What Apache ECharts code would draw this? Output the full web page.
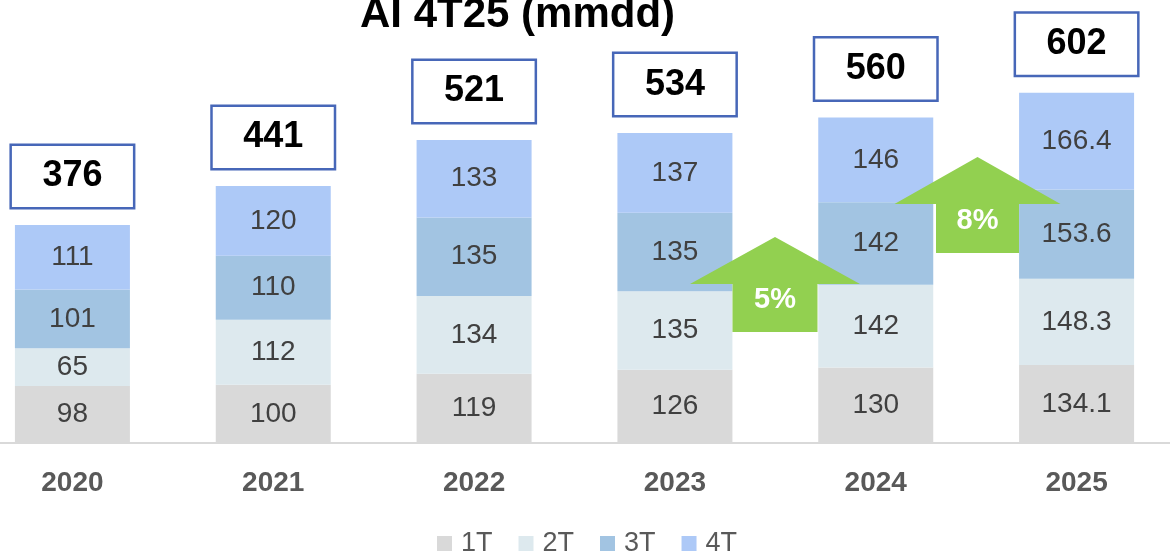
<!DOCTYPE html>
<html>
<head>
<meta charset="utf-8">
<script src="https://cdn.jsdelivr.net/npm/echarts@6/dist/echarts.min.js"></script>
<style>
html,body{margin:0;padding:0;background:#fff;overflow:hidden;width:1170px;height:552px;position:relative;}
#c{position:absolute;left:-28px;top:0;width:1205px;height:552px;}
</style>
</head>
<body>
<div id="c"></div>
<script>
const categories = ['2020', '2021', '2022', '2023', '2024', '2025'];
const q1 = [98, 100, 119, 126, 130, 134.1];
const q2 = [65, 112, 134, 135, 142, 148.3];
const q3 = [101, 110, 135, 135, 142, 153.6];
const q4 = [111, 120, 133, 137, 146, 166.4];
const totals = [376, 441, 521, 534, 560, 602];
const seriesNames = ['1T', '2T', '3T', '4T'];
const colors = ['#d9d9d9', '#dde9ee', '#a2c4e2', '#adc9f7'];
const growthText = ['5%', '8%'];

const OFF = 28; // container offset
const growth = [
  { cx: 775, tipY: 237, headY: 284, bottomY: 332, halfHead: 85, halfShaft: 42.5, textY: 300 },
  { cx: 977.5, tipY: 157, headY: 204, bottomY: 253, halfHead: 83, halfShaft: 41.5, textY: 221 }
];

const FONT = '"Liberation Sans", Arial, sans-serif';
const chart = echarts.init(document.getElementById('c'));
const allVals = [q1, q2, q3, q4];
const sums = categories.map((_, i) => allVals.reduce((s, a) => s + a[i], 0));

const barSeries = allVals.map((vals, k) => ({
  name: seriesNames[k],
  type: 'bar',
  stack: 'total',
  barWidth: 115,
  data: vals,
  itemStyle: { color: colors[k] },
  label: {
    show: true,
    position: 'inside',
    fontSize: 28,
    fontFamily: FONT,
    color: '#404040'
  },
  emphasis: { disabled: true }
}));

const graphics = [];
growth.forEach((g, i) => {
  const cx = g.cx + OFF;
  graphics.push({
    type: 'polygon',
    z: 100,
    shape: {
      points: [
        [cx, g.tipY],
        [cx + g.halfHead, g.headY],
        [cx + g.halfShaft, g.headY],
        [cx + g.halfShaft, g.bottomY],
        [cx - g.halfShaft, g.bottomY],
        [cx - g.halfShaft, g.headY],
        [cx - g.halfHead, g.headY]
      ]
    },
    style: { fill: '#92d050' }
  });
  graphics.push({
    type: 'text',
    z: 101,
    x: cx,
    y: g.textY,
    style: {
      text: growthText[i],
      fill: '#ffffff',
      font: 'bold 29px ' + FONT,
      align: 'center',
      verticalAlign: 'middle'
    }
  });
});

chart.setOption({
  animation: false,
  backgroundColor: '#ffffff',
  title: {
    text: 'AI 4T25 (mmdd)',
    left: 355 + OFF,
    top: -11,
    textStyle: { fontSize: 42, fontWeight: 'bold', fontFamily: FONT, color: '#000' }
  },
  legend: {
    data: seriesNames,
    left: 437 + OFF,
    top: 530,
    padding: 0,
    itemWidth: 15,
    itemHeight: 15,
    itemGap: 26,
    icon: 'rect',
    textStyle: { fontSize: 27, fontFamily: FONT, color: '#595959', padding: [0, 0, 0, 4] }
  },
  grid: { left: 0, right: 0, top: 36, bottom: 109, containLabel: false },
  xAxis: {
    type: 'category',
    data: categories,
    axisLine: { lineStyle: { color: '#d9d9d9', width: 2 } },
    axisTick: { show: false },
    axisLabel: { fontSize: 28, fontWeight: 'bold', fontFamily: FONT, color: '#595959', margin: 26 }
  },
  yAxis: {
    type: 'value',
    min: 0,
    max: 700,
    show: false,
    splitLine: { show: false }
  },
  series: barSeries.concat([{
    name: 'total',
    type: 'scatter',
    symbolSize: 0,
    itemStyle: { opacity: 1 },
    data: sums.map((s, i) => [i, s]),
    label: {
      show: true,
      position: 'top',
      distance: 18,
      formatter: p => String(totals[p.dataIndex]),
      fontSize: 36,
      fontWeight: 'bold',
      fontFamily: FONT,
      color: '#000000',
      opacity: 1,
      backgroundColor: '#fff',
      borderColor: '#4767b8',
      borderWidth: 2.5,
      width: 121,
      height: 61,
      lineHeight: 61,
      align: 'center'
    },
    emphasis: { disabled: true },
    z: 5
  }]),
  graphic: graphics
});
</script>
</body>
</html>
